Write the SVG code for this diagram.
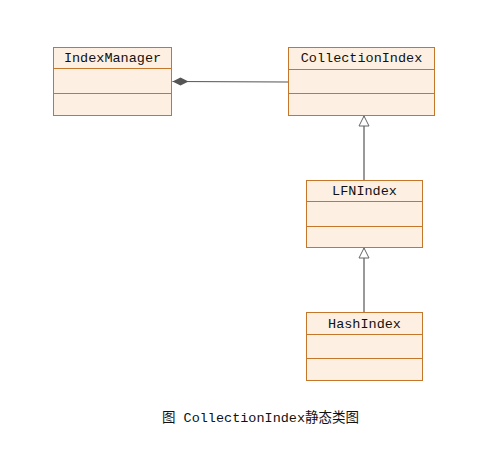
<svg xmlns="http://www.w3.org/2000/svg" width="496" height="450" viewBox="0 0 496 450">
<style>
.box{fill:#fdf0e2;stroke:#c4762a;stroke-width:1}
.div{stroke:#c4762a;stroke-width:1}
.t{font-family:"Liberation Mono","DejaVu Sans Mono",monospace;font-size:13.5px;fill:#111;text-anchor:middle}
.c{stroke:#555;stroke-width:1.2;fill:none}
.cap{font-family:"Liberation Mono","Noto Sans CJK SC",monospace;font-size:13.5px;fill:#111;text-anchor:middle}
</style>
<defs>
<marker id="tri" viewBox="0 0 12 12" refX="11" refY="6" markerWidth="12" markerHeight="12" markerUnits="userSpaceOnUse" orient="auto">
<path d="M1,1 L11,6 L1,11 Z" fill="#fff" stroke="#666" stroke-width="1"/>
</marker>
<marker id="dia" viewBox="0 0 16 10" refX="16" refY="5" markerWidth="16" markerHeight="10" markerUnits="userSpaceOnUse" orient="auto">
<path d="M0,5 L8,1 L16,5 L8,9 Z" fill="#555"/>
</marker>
</defs>
<rect width="496" height="450" fill="#fff"/>
<g id="connectors">
<line class="c" x1="288" y1="82" x2="172.5" y2="81.5" marker-end="url(#dia)"/>
<line class="c" x1="364" y1="181" x2="364" y2="116" marker-end="url(#tri)"/>
<line class="c" x1="364" y1="312" x2="364" y2="248" marker-end="url(#tri)"/>
</g>
<g id="IndexManager">
<rect class="box" x="53.5" y="47.5" width="118" height="68"/>
<line class="div" x1="53.5" y1="68.5" x2="171.5" y2="68.5"/>
<line class="div" x1="53.5" y1="93.5" x2="171.5" y2="93.5"/>
<text class="t" x="112.5" y="62">IndexManager</text>
</g>
<g id="CollectionIndex">
<rect class="box" x="288.5" y="47.5" width="146" height="68"/>
<line class="div" x1="288.5" y1="69.5" x2="434.5" y2="69.5"/>
<line class="div" x1="288.5" y1="93.5" x2="434.5" y2="93.5"/>
<text class="t" x="361.5" y="62">CollectionIndex</text>
</g>
<g id="LFNIndex">
<rect class="box" x="306.5" y="180.5" width="116" height="67"/>
<line class="div" x1="306.5" y1="201.5" x2="422.5" y2="201.5"/>
<line class="div" x1="306.5" y1="226.5" x2="422.5" y2="226.5"/>
<text class="t" x="364.5" y="195">LFNIndex</text>
</g>
<g id="HashIndex">
<rect class="box" x="306.5" y="312.5" width="116" height="68"/>
<line class="div" x1="306.5" y1="334.5" x2="422.5" y2="334.5"/>
<line class="div" x1="306.5" y1="358.5" x2="422.5" y2="358.5"/>
<text class="t" x="364.5" y="328">HashIndex</text>
</g>
<text class="cap" x="260.5" y="422">图 CollectionIndex静态类图</text>
</svg>
